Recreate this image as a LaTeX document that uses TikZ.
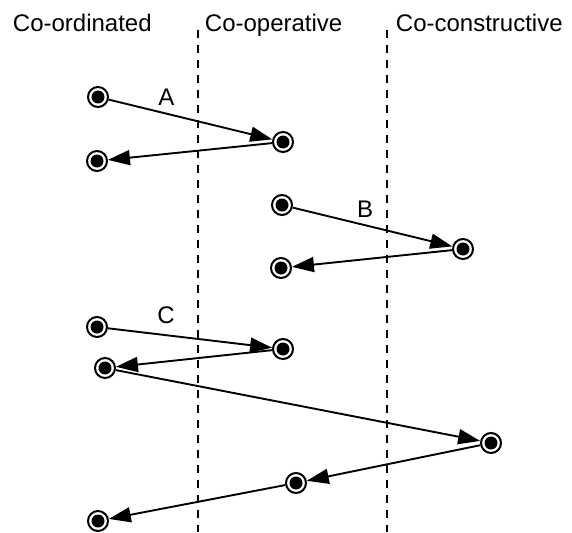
\documentclass[tikz,border=0pt]{standalone}
\usepackage{fontspec}
\setmainfont{Liberation Sans}
\usetikzlibrary{arrows.meta,positioning}

\begin{document}
\begin{tikzpicture}[x=1pt,y=-1pt,>={Triangle[length=22pt,width=15pt]},line width=1.9pt]
  \tikzstyle{every node}=[font=\fontsize{24}{28}\selectfont,inner sep=0pt]
  \tikzstyle{event}=[circle,draw,line width=2pt,minimum size=20pt,inner sep=0pt,
    path picture={\fill (path picture bounding box.center) circle (6.5pt);}]
  \tikzstyle{lane}=[dash pattern=on 8pt off 7pt,line width=2pt]
  \useasboundingbox (0,0) rectangle (572,532);

  % lanes
  \node[anchor=base west] (coord) at (12,32) {Co-ordinated};
  \node[anchor=base west] (coop) at (204,32) {Co-operative};
  \node[anchor=base west] (cocon) at (395,32) {Co-constructive};
  \draw[lane] (197.5,30) -- (197.5,532);
  \draw[lane] (387,30) -- (387,532);

  % A
  \node[event] (a1) at (98,97) {};
  \node[event] (a2) at (283,142) {};
  \node[event] (a3) at (97,161) {};
  \node[anchor=base] (la) at (166.5,106) {A};

  % B
  \node[event] (b1) at (282,205) {};
  \node[event] (b2) at (463,249) {};
  \node[event] (b3) at (281,268) {};
  \node[anchor=base] (lb) at (365,217) {B};

  % C
  \node[event] (c1) at (97,327) {};
  \node[event] (c2) at (283,349) {};
  \node[event] (c3) at (105,368) {};
  \node[event] (c4) at (491,443) {};
  \node[event] (c5) at (296,483) {};
  \node[event] (c6) at (98,521) {};
  \node[anchor=base] (lc) at (166,323) {C};

  \path[->]
  (a1) edge (a2)
  (a2) edge (a3)

  (b1) edge (b2)
  (b2) edge (b3)

  (c1) edge (c2)
  (c2) edge (c3)
  (c3) edge (c4)
  (c4) edge (c5)
  (c5) edge (c6);
\end{tikzpicture}
\end{document}
